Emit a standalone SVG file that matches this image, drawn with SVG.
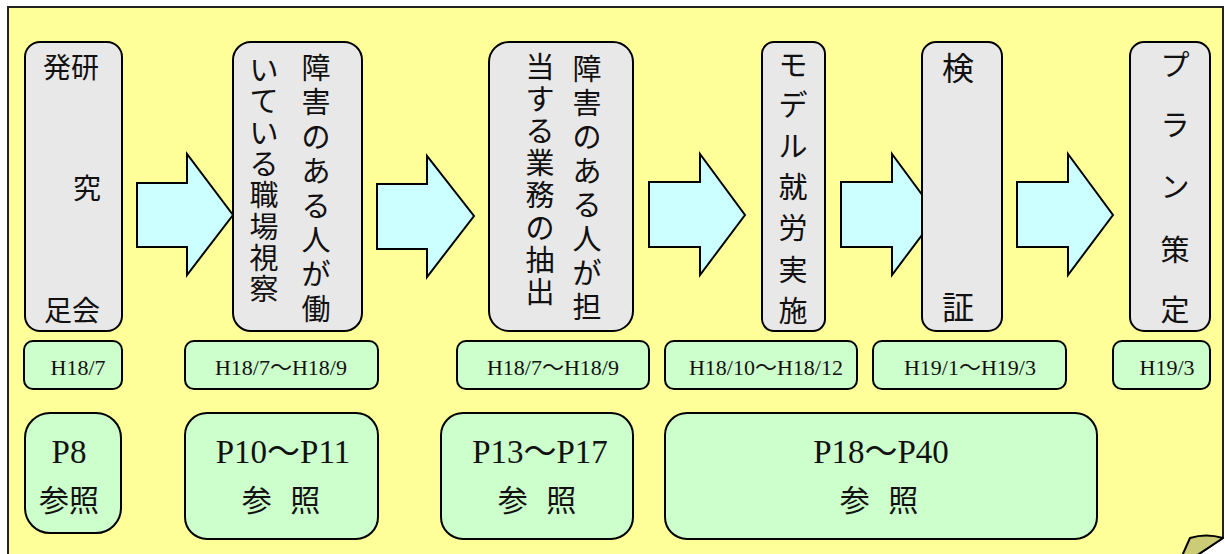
<svg xmlns="http://www.w3.org/2000/svg" width="1225" height="554" viewBox="0 0 1225 554">
<style>
.frame{fill:#FFFF99;stroke:#222;stroke-width:2}
.node{fill:#E8E8E8;stroke:#000;stroke-width:2}
.date{fill:#CCFFCC;stroke:#000;stroke-width:2}
.arrow{fill:#CCFFFF;stroke:#000;stroke-width:2;stroke-linejoin:miter}
.jp{font-family:"Noto Sans CJK JP","Noto Sans CJK SC",sans-serif;fill:#111;text-anchor:middle}
.lat{font-family:"Liberation Serif","Noto Sans CJK JP",serif;fill:#111;text-anchor:middle}
</style>
<rect x="0" y="0" width="1225" height="554" fill="#FFFFFF"/>
<g id="frame">
<path class="frame" d="M8,600 V7 H1223 V538 L1196,556 L1186,600 Z"/>
<path d="M1182,556 L1190,538 Q1206,533 1223,538 L1196,556 Z" fill="#CCCC77" stroke="#000" stroke-width="2" stroke-linejoin="round"/>
</g>
<g id="connectors">
<polygon class="arrow" points="137,183 187,183 187,154 233,215 187,275 187,247 137,247"/>
<polygon class="arrow" points="377,184 427,184 427,156 474,216 427,277 427,249 377,249"/>
<polygon class="arrow" points="649,182 700,182 700,154 745,215 700,275 700,247 649,247"/>
<polygon class="arrow" points="841,182 892,182 892,154 937,215 892,275 892,247 841,247"/>
<polygon class="arrow" points="1017,182 1068,182 1068,154 1113,215 1068,275 1068,247 1017,247"/>
</g>
<g id="node1">
<rect class="node" x="25" y="42" width="97" height="289" rx="15"/>
<text class="jp" font-size="28" x="71" y="78">発研</text>
<text class="jp" font-size="28" x="87" y="199">究</text>
<text class="jp" font-size="28" x="72" y="321">足会</text>
</g>
<g id="node2">
<rect class="node" x="233" y="42" width="129" height="289" rx="18"/>
<text class="jp" font-size="29" x="316 316 316 316 316 316 316 316" y="79 113 148 182 217 251 285 320">障害のある人が働</text>
<text class="jp" font-size="29" x="264 264 264 264 264 264 264 264" y="81 112 144 175 206 238 269 300">いている職場視察</text>
</g>
<g id="node3">
<rect class="node" x="489" y="42" width="144" height="289" rx="20"/>
<text class="jp" font-size="29" x="587 587 587 587 587 587 587 587" y="80 114 148 182 216 250 284 318">障害のある人が担</text>
<text class="jp" font-size="29" x="540 540 540 540 540 540 540 540" y="78 110 142 174 206 239 271 303">当する業務の抽出</text>
</g>
<g id="node4">
<rect class="node" x="762" y="42" width="63" height="289" rx="12"/>
<text class="jp" font-size="29" x="793 793 793 793 793 793 793" y="76 116 157 198 239 281 322">モデル就労実施</text>
</g>
<g id="node5">
<rect class="node" x="922" y="42" width="80" height="289" rx="14"/>
<text class="jp" font-size="32" x="958 958" y="80 319">検証</text>
</g>
<g id="node6">
<rect class="node" x="1130" y="42" width="80" height="289" rx="14"/>
<text class="jp" font-size="29" x="1175 1175 1175 1175 1175" y="76 136 198 261 321">プラン策定</text>
</g>
<g id="date1"><rect class="date" x="24" y="341" width="98" height="48" rx="9"/><text class="lat" font-size="22" x="78" y="375">H18/7</text></g>
<g id="date2"><rect class="date" x="185" y="341" width="193" height="48" rx="9"/><text class="lat" font-size="22" x="281" y="375">H18/7～H18/9</text></g>
<g id="date3"><rect class="date" x="457" y="341" width="192" height="48" rx="9"/><text class="lat" font-size="22" x="553" y="375">H18/7～H18/9</text></g>
<g id="date4"><rect class="date" x="665" y="341" width="192" height="48" rx="9"/><text class="lat" font-size="22" x="766" y="375">H18/10～H18/12</text></g>
<g id="date5"><rect class="date" x="873" y="341" width="193" height="48" rx="9"/><text class="lat" font-size="22" x="970" y="375">H19/1～H19/3</text></g>
<g id="date6"><rect class="date" x="1113" y="341" width="97" height="48" rx="9"/><text class="lat" font-size="22" x="1167" y="375">H19/3</text></g>
<g id="ref1"><rect class="date" x="25" y="413" width="96" height="120" rx="25"/><text class="lat" font-size="33" x="69" y="463">P8</text><text class="jp" font-size="30" x="69" y="511">参照</text></g>
<g id="ref2"><rect class="date" x="185" y="413" width="193" height="126" rx="22"/><text class="lat" font-size="33" x="283" y="463">P10～P11</text><text class="jp" font-size="30" x="281" y="511" word-spacing="12">参 照</text></g>
<g id="ref3"><rect class="date" x="441" y="413" width="192" height="126" rx="22"/><text class="lat" font-size="33" x="540" y="463">P13～P17</text><text class="jp" font-size="30" x="537" y="511" word-spacing="12">参 照</text></g>
<g id="ref4"><rect class="date" x="665" y="413" width="432" height="126" rx="22"/><text class="lat" font-size="33" x="881" y="463">P18～P40</text><text class="jp" font-size="30" x="879" y="511" word-spacing="12">参 照</text></g>
</svg>
